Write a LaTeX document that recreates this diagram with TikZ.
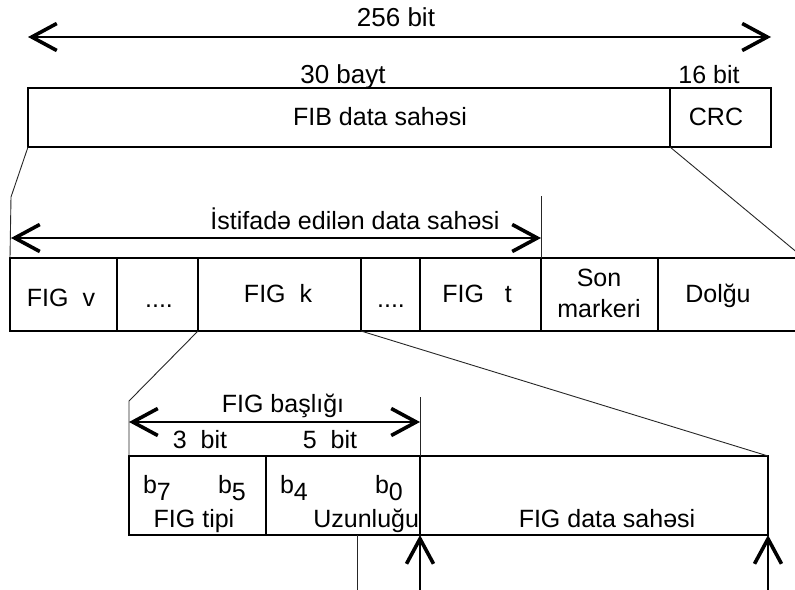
\documentclass[tikz,border=0pt]{standalone}
\usepackage{fontspec}
\setmainfont{Liberation Sans}
\usetikzlibrary{arrows.meta}
\tikzset{
  box/.style={draw, line width=1.9pt, rectangle, inner sep=0pt, outer sep=0pt, anchor=north west},
  txt/.style={inner sep=0pt, outer sep=0pt, anchor=base, font=\fontsize{25}{29}\selectfont},
  thin/.style={line width=0.9pt, black!85},
  barb/.tip={Straight Barb[length=25pt,width=27pt,line width=3.6pt]},
  dbl/.style={line width=2.6pt, barb-barb},
  upar/.style={line width=1.2pt, -barb},
}
\begin{document}
\begin{tikzpicture}[x=1pt,y=-1pt]
\useasboundingbox (0,0) rectangle (795,589);
% ---------- top ----------
\coordinate (tl) at (28,37);
\coordinate (tr) at (771,37);
\draw[dbl] (tl) -- (tr);
\node[txt, font=\fontsize{26}{30}\selectfont] (t256) at (396,27) {256 bit};
\node[txt, font=\fontsize{26}{30}\selectfont] (t30) at (343,83) {30 bayt};
\node[txt] (t16) at (709,83) {16 bit};
\node[box, minimum width=642pt, minimum height=59pt] (fib) at (28,88) {};
\node[box, minimum width=101pt, minimum height=59pt] (crc) at (670,88) {};
\node[txt] (fibt) at (380,125) {FIB data sahəsi};
\node[txt] (crct) at (716,125) {CRC};
% ---------- middle ----------
\node[box, minimum width=107pt, minimum height=73pt] (c1) at (10,258) {};
\node[box, minimum width=81pt, minimum height=73pt] (c2) at (117,258) {};
\node[box, minimum width=163pt, minimum height=73pt] (c3) at (198,258) {};
\node[box, minimum width=59pt, minimum height=73pt] (c4) at (361,258) {};
\node[box, minimum width=121pt, minimum height=73pt] (c5) at (420,258) {};
\node[box, minimum width=117pt, minimum height=73pt] (c6) at (541,258) {};
\node[box, minimum width=150pt, minimum height=73pt] (c7) at (658,258) {};
\node[txt] (c1t) at (61,306) {FIG\ \ v};
\node[txt] (c2t) at (159,307) {....};
\node[txt] (c3t) at (278,302) {FIG\ \ k};
\node[txt] (c4t) at (391,307) {....};
\node[txt] (c5t) at (477,302) {FIG\ \ \ t};
\node[txt] (c6a) at (599,286) {Son};
\node[txt] (c6b) at (599,317) {markeri};
\node[txt] (c7t) at (718,302) {Dolğu};
\coordinate (mv) at (11,197);
\coordinate (ml) at (11,238);
\coordinate (mr) at (541,238);
\coordinate (mrt) at (541,196);
\coordinate (mfar) at (805,259);
\draw[thin] (fib.south west) -- (mv) -- (c1.north west);
\draw[thin] (crc.south west) -- (mfar);
\draw[thin] (mrt) -- (c6.north west);
\draw[dbl] (ml) -- (mr);
\node[txt] (ist) at (355,229) {İstifadə edilən data sahəsi};
% ---------- bottom ----------
\node[box, minimum width=137pt, minimum height=79pt] (b1) at (129,456) {};
\node[box, minimum width=154pt, minimum height=79pt] (b2) at (266,456) {};
\node[box, minimum width=348pt, minimum height=79pt] (b3) at (420,456) {};
\coordinate (bv) at (129,401);
\coordinate (bl) at (129,422);
\coordinate (br) at (420,422);
\coordinate (brt) at (420,397);
\draw[thin] (c3.south west) -- (bv) -- (b1.north west);
\draw[thin] (c4.south west) -- (b3.north east);
\draw[thin] (brt) -- (b3.north west);
\draw[dbl] (bl) -- (br);
\node[txt] (hdr) at (283,412) {FIG başlığı};
\node[txt] (b3b) at (200,448) {3\ \ bit};
\node[txt] (b5b) at (330,448) {5\ \ bit};
\node[txt, anchor=base west] (bb7) at (143,493) {b\raisebox{-7pt}{7}};
\node[txt, anchor=base west] (bb5) at (218,493) {b\raisebox{-7pt}{5}};
\node[txt, anchor=base west] (bb4) at (280,493) {b\raisebox{-7pt}{4}};
\node[txt, anchor=base west] (bb0) at (375,493) {b\raisebox{-7pt}{0}};
\node[txt] (tipi) at (194,527) {FIG tipi};
\node[txt, anchor=base east] (uzun) at (419,527) {Uzunluğu};
\node[txt] (fdata) at (607,527) {FIG data sahəsi};
\coordinate (d1) at (357,590);
\coordinate (d2) at (420,590);
\coordinate (d3) at (768,590);
\coordinate (u1) at (357,535);
\draw[thin] (d1) -- (u1);
\draw[upar] (d2) -- (b2.south east);
\draw[upar] (d3) -- (b3.south east);
\end{tikzpicture}
\end{document}
